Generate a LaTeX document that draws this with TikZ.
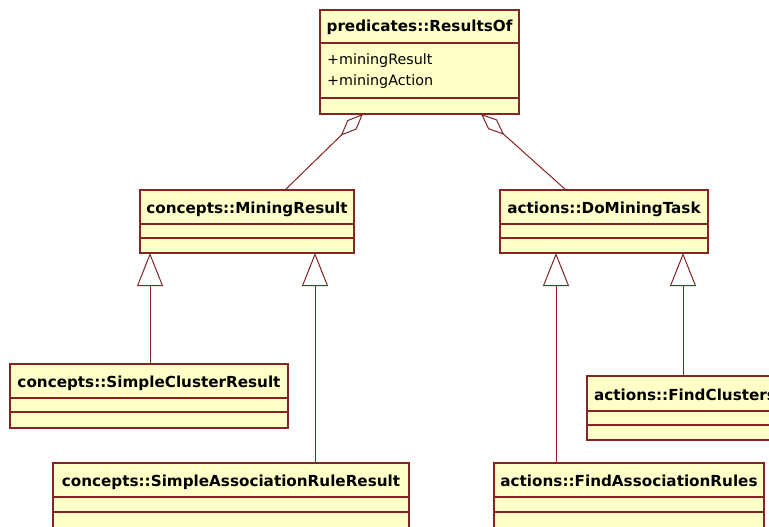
\documentclass[tikz,border=0pt]{standalone}
\usepackage{fontspec}
\setmainfont{DejaVu Sans}
\usetikzlibrary{arrows.meta}

\definecolor{umlfill}{HTML}{FFFFC8}
\definecolor{umlline}{HTML}{842424}

\tikzset{
  classbox/.style={draw=umlline, fill=umlfill, line width=1.1pt, inner sep=0pt, outer sep=0pt},
  classsep/.style={draw=umlline, line width=1.1pt},
  classtitle/.style={font=\bfseries\fontsize{15.2}{18}\selectfont, inner sep=0pt, anchor=base},
  classattr/.style={font=\fontsize{14.3}{17}\selectfont, inner sep=0pt, anchor=base west},
  aggregation/.style={draw=umlline, line width=1pt, -{Diamond[open, length=31pt, width=13pt]}},
  generalization/.style={draw=umlline, line width=1pt, -{Triangle[open, length=33pt, width=26pt]}},
}

% class box: name, left x, top y, width, first separator y, second separator y, bottom y, title
\newcommand\umlclass[8]{%
  \pgfmathsetmacro\umlh{#7-#3}%
  \pgfmathsetmacro\umlcx{#2+#4/2}%
  \pgfmathsetmacro\umlty{#5-11}%
  \node[classbox, minimum width=#4pt, minimum height=\umlh pt, anchor=north west] (#1) at (#2,#3) {};
  \draw[classsep] (#1.west |- 0,#5) -- (#1.east |- 0,#5);
  \draw[classsep] (#1.west |- 0,#6) -- (#1.east |- 0,#6);
  \node[classtitle] (#1-title) at (\umlcx,\umlty) {#8};
}

\begin{document}
\begin{tikzpicture}[x=1pt, y=-1pt]
  \useasboundingbox (0,0) rectangle (769,527);
  \fill[white] (0,0) rectangle (769,527);
  \clip (0,0) rectangle (769,527);

  \umlclass{rof}{320}{10}{199}{43}{98}{114}{predicates::ResultsOf}
  \node[classattr] (rof-a1) at (327,65) {+miningResult};
  \node[classattr] (rof-a2) at (327,85) {+miningAction};

  \umlclass{mr}{140}{190}{214}{224}{238}{253}{concepts::MiningResult}
  \umlclass{dmt}{500}{190}{208}{224}{238}{253}{actions::DoMiningTask}
  \umlclass{scr}{10}{364}{278}{398}{412}{428}{concepts::SimpleClusterResult}
  \umlclass{sarr}{53}{463}{356}{497}{512}{528}{concepts::SimpleAssociationRuleResult}
  \umlclass{fc}{587}{376}{196}{411}{425}{440}{actions::FindClusters}
  \umlclass{far}{494}{463}{270}{497}{512}{528}{actions::FindAssociationRules}

  % aggregations into ResultsOf
  \draw[aggregation] (285,0 |- mr.north) -- (363,0 |- rof.south);
  \draw[aggregation] (566,0 |- dmt.north) -- (481,0 |- rof.south);

  % generalizations
  \draw[generalization] (150,0 |- scr.north) -- (150,0 |- mr.south);
  \draw[generalization] (315,0 |- sarr.north) -- (315,0 |- mr.south);
  \draw[generalization] (556,0 |- far.north) -- (556,0 |- dmt.south);
  \draw[generalization] (683,0 |- fc.north) -- (683,0 |- dmt.south);
\end{tikzpicture}
\end{document}
